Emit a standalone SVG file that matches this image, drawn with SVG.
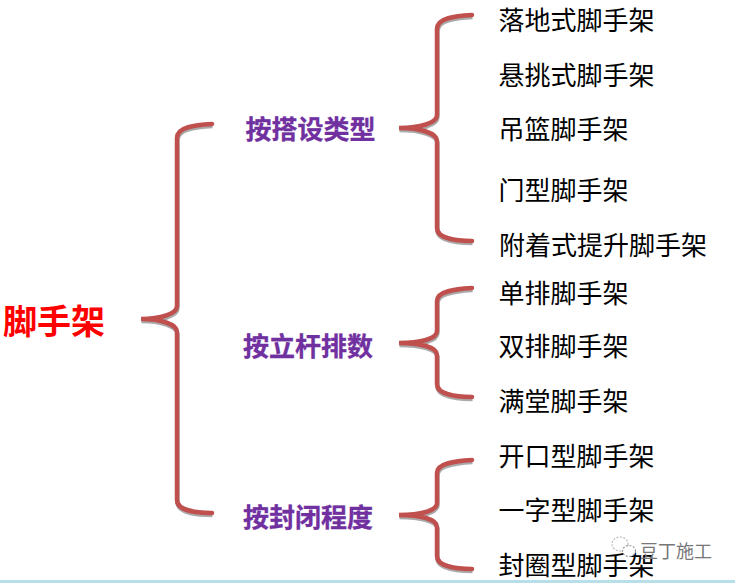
<svg xmlns="http://www.w3.org/2000/svg" width="735" height="583" viewBox="0 0 735 583">
<style>
text{font-family:"Noto Sans CJK SC","Noto Sans CJK JP",sans-serif}
.leaf{font-size:26px;fill:#000}
.mid{font-size:26px;font-weight:700;fill:#7030a0;stroke:#7030a0;stroke-width:.3px}
.root{font-size:34px;font-weight:700;fill:#ff0000}
.wm{font-size:18px;fill:#777}
.brace{fill:none;stroke:#c0504d;stroke-width:4.5px;stroke-linecap:round}
.shadow{fill:none;stroke:#aaa;stroke-width:4.5px}
</style>
<rect width="735" height="583" fill="#fff"/>
<rect x="0" y="580" width="735" height="3" fill="#b7dfe9"/>
<g id="connectors">
<defs>
<path id="b1" d="M212,124 C195,125 177,127 177,138 L177,306 C177,314 160,319 141,319 C160,319 177,324 177,332 L177,500 C177,510 195,513 212,513"/>
<path id="b2" d="M472,15 C455,16 437,18 437,29 L437,115 C437,123 420,128 399,128 C420,128 437,133 437,141 L437,228 C437,238 455,241 472,241"/>
<path id="b3" d="M472,288 C455,289 437,291 437,301 L437,331 C437,339 420,343 399,343 C420,343 437,347 437,355 L437,384 C437,394 455,397 472,397"/>
<path id="b4" d="M472,460 C455,461 437,463 437,473 L437,503 C437,511 420,515 399,515 C420,515 437,519 437,527 L437,556 C437,566 455,569 472,569"/>
</defs>
<use href="#b1" class="shadow" x="0.5" y="2"/><use href="#b1" class="brace"/>
<use href="#b2" class="shadow" x="0.5" y="2"/><use href="#b2" class="brace"/>
<use href="#b3" class="shadow" x="0.5" y="2"/><use href="#b3" class="brace"/>
<use href="#b4" class="shadow" x="0.5" y="2"/><use href="#b4" class="brace"/>
</g>
<g id="root"><text class="root" x="3" y="334">脚手架</text></g>
<g id="type1"><text class="mid" x="245.5" y="139">按搭设类型</text></g>
<g id="type2"><text class="mid" x="243" y="356">按立杆排数</text></g>
<g id="type3"><text class="mid" x="243" y="527">按封闭程度</text></g>
<g id="n1"><text class="leaf" x="498.5" y="30">落地式脚手架</text></g>
<g id="n2"><text class="leaf" x="498.5" y="85">悬挑式脚手架</text></g>
<g id="n3"><text class="leaf" x="498.5" y="139">吊篮脚手架</text></g>
<g id="n4"><text class="leaf" x="498.5" y="200">门型脚手架</text></g>
<g id="n5"><text class="leaf" x="499" y="255">附着式提升脚手架</text></g>
<g id="n6"><text class="leaf" x="498.5" y="303">单排脚手架</text></g>
<g id="n7"><text class="leaf" x="498.5" y="356">双排脚手架</text></g>
<g id="n8"><text class="leaf" x="498.5" y="411">满堂脚手架</text></g>
<g id="n9"><text class="leaf" x="498.5" y="466">开口型脚手架</text></g>
<g id="n10"><text class="leaf" x="498.5" y="520">一字型脚手架</text></g>
<g id="n11"><text class="leaf" x="498.5" y="575">封圈型脚手架</text></g>
<g id="watermark">
<ellipse cx="620" cy="544" rx="8" ry="7" fill="#fff" stroke="#bbb" stroke-width="1.2" stroke-dasharray="2 1.5"/>
<ellipse cx="629" cy="551" rx="6.5" ry="5.5" fill="#fff" stroke="#999" stroke-width="1.2" stroke-dasharray="2 1.5"/>
<text class="wm" x="640" y="558">豆丁施工</text>
</g>
</svg>
